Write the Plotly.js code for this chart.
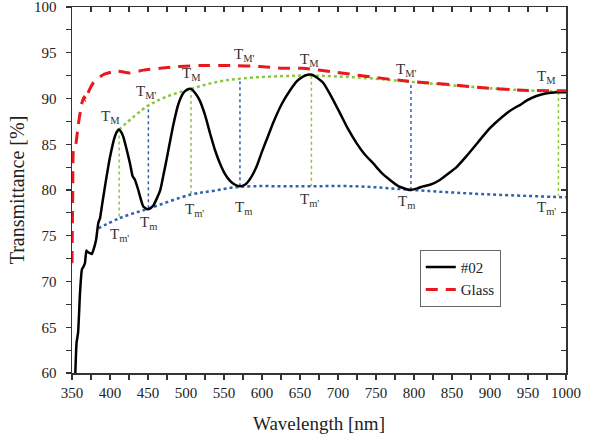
<!DOCTYPE html>
<html>
<head>
<meta charset="utf-8">
<script src="https://cdn.plot.ly/plotly-3.0.1.min.js"></script>
<style>html,body{margin:0;padding:0;background:#fff;}#chart{width:593px;height:441px;}</style>
</head>
<body>
<div id="chart"></div>
<script>
// Sample #02 transmittance
const wl02 = [354, 356, 358, 360.5, 363, 365, 367, 369, 371, 373.7, 376, 378, 381.6, 384.6, 386.8, 390, 393.4, 400, 406.6, 410, 412.2, 415, 417.5, 422, 426.3, 429.8, 432.9, 437.2, 439.5, 443.8, 449, 453, 457, 465.8, 470, 476, 483, 490, 496.5, 501, 506.6, 512, 518, 525, 531.6, 538, 544.7, 551, 558, 564, 571, 578, 585, 593, 600, 608, 615, 626, 637, 646, 654, 660, 666, 672, 680.7, 690, 702.6, 713, 724.6, 735, 746.4, 757, 768.4, 780, 795, 805, 812, 822, 834, 847, 856, 869, 887, 898, 906.6, 922, 935, 940, 948, 961, 974.6, 987.8, 1000];
const t02  = [59, 63.3, 64.4, 68.7, 71.3, 71.6, 72.0, 73.4, 73.2, 73.1, 73.0, 73.4, 74.5, 76.4, 76.9, 78.6, 80.4, 83.6, 85.9, 86.5, 86.6, 86.3, 85.8, 84.4, 82.9, 81.5, 81.1, 80.0, 79.3, 78.2, 77.9, 78.0, 78.3, 79.9, 81.5, 84.0, 87.0, 89.4, 90.6, 90.95, 91.05, 90.6, 89.8, 88.2, 86.2, 84.4, 82.9, 81.8, 81.0, 80.6, 80.4, 80.6, 81.3, 82.6, 84.2, 85.9, 87.4, 89.4, 90.9, 91.9, 92.4, 92.6, 92.6, 92.3, 91.7, 90.4, 88.4, 86.7, 85.1, 83.9, 82.9, 81.9, 81.1, 80.4, 80.0, 80.2, 80.4, 80.6, 81.1, 81.9, 82.5, 83.7, 85.5, 86.6, 87.3, 88.4, 89.1, 89.3, 89.76, 90.27, 90.57, 90.68, 90.68];
// Glass substrate
const wlGlass = [350, 351, 352, 355, 358, 363, 366, 368, 371, 378, 391, 409, 426, 444, 466, 492, 518, 562, 597, 628, 654, 694, 759, 790, 851, 887, 943, 979, 1000];
const tGlass  = [72.0, 80.0, 84.5, 85.0, 87.0, 89.5, 90.2, 89.8, 90.6, 91.7, 92.6, 93.0, 92.8, 93.1, 93.3, 93.5, 93.6, 93.6, 93.5, 93.3, 93.3, 92.9, 92.2, 91.9, 91.5, 91.2, 90.9, 90.85, 90.85];
// Upper envelope (T_M)
const wlEnvM = [412, 448, 474.6, 506.6, 540, 575, 628, 665, 724.6, 799, 856, 922, 988, 1000];
const tEnvM  = [86.6, 89.1, 90.2, 91.05, 91.8, 92.2, 92.45, 92.5, 92.3, 91.8, 91.4, 91.0, 90.75, 90.7];
// Lower envelope (T_m)
const wlEnvm = [384.6, 412, 451.7, 506.6, 535.5, 571, 650, 724.6, 799, 878, 1000];
const tEnvm  = [75.8, 76.9, 78.0, 79.5, 79.9, 80.35, 80.4, 80.4, 80.0, 79.6, 79.2];
// Vertical markers: maxima (green) and minima (blue)
const wlMax = [412, 506.6, 665, 990];
const tMaxTop = [86.6, 91.05, 92.5, 90.7];
const tMaxBot = [76.9, 79.5, 80.4, 79.4];
const wlMin = [450.5, 571, 796];
const tMinBot = [78.0, 80.4, 80.0];
const tMinTop = [89.3, 92.1, 91.8];
// Labels
const labelText = ["T<sub>M</sub>", "T<sub>M'</sub>", "T<sub>M</sub>", "T<sub>M'</sub>", "T<sub>M</sub>", "T<sub>M'</sub>", "T<sub>M</sub>",
                   "T<sub>m'</sub>", "T<sub>m</sub>", "T<sub>m'</sub>", "T<sub>m</sub>", "T<sub>m'</sub>", "T<sub>m</sub>", "T<sub>m'</sub>"];
const labelX = [400, 448.3, 506.6, 577.6, 663, 790, 974.6, 413, 450.4, 511.8, 575.4, 663, 790, 974.6];
const labelY = [88.0, 90.74, 92.7, 94.75, 94.2, 93.1, 92.35, 75.1, 76.4, 77.8, 78.0, 78.9, 78.7, 78.0];

function segs(xs, y0, y1) {
  const x = [], y = [];
  xs.forEach((v, i) => { x.push(v, v, null); y.push(y0[i], y1[i], null); });
  return {x, y};
}
const gSeg = segs(wlMax, tMaxTop, tMaxBot);
const bSeg = segs(wlMin, tMinBot, tMinTop);
const green = '#8cc63f', blue = '#2f62ad';
const serif = 'Liberation Serif, Times New Roman, serif';

const traces = [
  {x: gSeg.x, y: gSeg.y, mode: 'lines', line: {color: green, width: 1.5, dash: 'dot'}, showlegend: false, hoverinfo: 'skip'},
  {x: bSeg.x, y: bSeg.y, mode: 'lines', line: {color: blue, width: 1.5, dash: 'dot'}, showlegend: false, hoverinfo: 'skip'},
  {x: wlEnvM, y: tEnvM, mode: 'lines', line: {color: green, width: 2.5, dash: 'dot', shape: 'spline'}, showlegend: false},
  {x: wlEnvm, y: tEnvm, mode: 'lines', line: {color: blue, width: 2.5, dash: 'dot', shape: 'spline'}, showlegend: false},
  {x: wl02, y: t02, mode: 'lines', name: '#02', line: {color: '#000', width: 2.5, shape: 'spline', smoothing: 0.5}},
  {x: wlGlass, y: tGlass, mode: 'lines', name: 'Glass', line: {color: '#e8191c', width: 3, dash: '12px,8px', shape: 'spline', smoothing: 0.5}},
  {x: [], y: [], xaxis: 'x2', yaxis: 'y2', showlegend: false, mode: 'lines'}
];

const tickFont = {family: serif, size: 15, color: '#222'};
const axCommon = {showgrid: false, zeroline: false, showline: true, linecolor: '#333', linewidth: 1.5, tickcolor: '#333', tickwidth: 1.2};

const annotations = labelText.map((t, i) => ({
  x: labelX[i], y: labelY[i], text: t, showarrow: false,
  font: {family: serif, size: 15, color: '#333'}
}));

const layout = {
  width: 593, height: 441,
  margin: {l: 72, r: 27, t: 7, b: 68},
  paper_bgcolor: '#fff', plot_bgcolor: '#fff',
  xaxis: Object.assign({}, axCommon, {
    range: [350, 1000], dtick: 50, tick0: 350, ticks: 'outside', ticklen: 5,
    minor: {dtick: 25, ticks: 'outside', ticklen: 5, tickcolor: '#333', tickwidth: 1.2, showgrid: false},
    tickfont: tickFont, ticklabeloverflow: 'allow',
    title: {text: 'Wavelength [nm]', font: {family: serif, size: 19, color: '#222'}, standoff: 17}
  }),
  yaxis: Object.assign({}, axCommon, {
    range: [60, 100], dtick: 5, tick0: 60, ticks: 'outside', ticklen: 5,
    minor: {dtick: 2.5, ticks: 'outside', ticklen: 5, tickcolor: '#333', tickwidth: 1.2, showgrid: false},
    tickfont: tickFont, ticklabeloverflow: 'allow', ticklabelstandoff: 6,
    title: {text: 'Transmittance [%]', font: {family: serif, size: 20, color: '#222'}, standoff: 4}
  }),
  xaxis2: Object.assign({}, axCommon, {
    overlaying: 'x', side: 'top', range: [350, 1000], dtick: 25, tick0: 350, ticks: 'inside', ticklen: 5, showticklabels: false
  }),
  yaxis2: Object.assign({}, axCommon, {
    overlaying: 'y', side: 'right', range: [60, 100], dtick: 2.5, tick0: 60, ticks: 'inside', ticklen: 5, showticklabels: false
  }),
  legend: {
    x: 0.704, y: 0.337, xanchor: 'left', yanchor: 'top',
    bgcolor: '#fff', bordercolor: '#666', borderwidth: 1,
    font: {family: serif, size: 15, color: '#222'},
    tracegroupgap: 0, itemwidth: 30
  },
  annotations: annotations
};

Plotly.newPlot('chart', traces, layout, {displayModeBar: false, staticPlot: true});
</script>
</body>
</html>
